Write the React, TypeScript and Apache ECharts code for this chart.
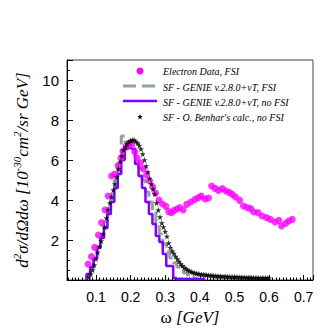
import React, { useEffect, useRef } from "react";
import * as echarts from "echarts";

// Electron data, FSI (omega [GeV], cross section)
const electronOmega = [
  0.077, 0.087, 0.096, 0.107, 0.116, 0.126, 0.135, 0.145, 0.154, 0.164, 0.172, 0.178, 0.187, 0.195, 0.203,
  0.212, 0.219, 0.228, 0.237, 0.246, 0.255, 0.264, 0.272, 0.282, 0.292, 0.302, 0.31, 0.318, 0.326, 0.334,
  0.342, 0.352, 0.362, 0.374, 0.386, 0.396, 0.404, 0.415, 0.425, 0.434, 0.444, 0.454, 0.465, 0.475, 0.485,
  0.494, 0.503, 0.515, 0.526, 0.537, 0.547, 0.556, 0.568, 0.58, 0.593, 0.604, 0.617, 0.628, 0.636, 0.648,
  0.657, 0.667,
];
const electronXs = [
  0.8, 1.17, 1.63, 2.25, 2.87, 3.5, 4.2, 5.2, 5.3, 5.72, 6.1, 6.45, 6.68, 6.82, 6.75,
  6.4, 6.1, 5.85, 5.55, 5.25, 4.95, 4.65, 4.35, 4.0, 3.8, 3.68, 3.42, 3.36, 3.48, 3.55,
  3.62, 3.5, 3.78, 3.9, 4.03, 4.12, 4.2, 4.05, 4.1, 4.7, 4.58, 4.48, 4.57, 4.45, 4.38,
  4.28, 4.15, 3.98, 3.7, 3.62, 3.57, 3.4, 3.37, 3.2, 3.12, 3.03, 2.9, 2.98, 2.7, 2.83,
  2.95, 3.03,
];

// SF - O. Benhar's calc., no FSI
const benharOmega = [
  0.08, 0.085, 0.09, 0.095, 0.1, 0.105, 0.11, 0.115, 0.12, 0.125, 0.13, 0.135, 0.14, 0.145, 0.15, 0.155,
  0.16, 0.165, 0.17, 0.175, 0.18, 0.185, 0.19, 0.195, 0.2, 0.205, 0.21, 0.215, 0.22, 0.225, 0.23, 0.235,
  0.24, 0.245, 0.25, 0.255, 0.26, 0.265, 0.27, 0.275, 0.28, 0.285, 0.29, 0.295, 0.3, 0.305, 0.31, 0.315,
  0.32, 0.325, 0.33, 0.335, 0.34, 0.345, 0.35, 0.355, 0.36, 0.365, 0.37, 0.375, 0.38, 0.385, 0.39, 0.395,
  0.4, 0.405, 0.41, 0.415, 0.42, 0.425, 0.43, 0.435, 0.44, 0.445, 0.45, 0.455, 0.46, 0.465, 0.47, 0.475,
  0.48, 0.485, 0.49, 0.495, 0.5, 0.505, 0.51, 0.515, 0.52, 0.525, 0.53, 0.535, 0.54, 0.545, 0.55, 0.555,
  0.56, 0.565, 0.57, 0.575, 0.58, 0.585, 0.59, 0.595, 0.6,
];
const benharXs = [
  0.15, 0.3, 0.5, 0.75, 1.05, 1.38, 1.68, 1.95, 2.3, 2.65, 3.1, 3.5, 3.85, 4.15, 4.5, 4.8,
  5.15, 5.55, 5.92, 6.2, 6.5, 6.65, 6.8, 6.9, 6.97, 7.0, 7.0, 6.92, 6.85, 6.72, 6.55, 6.3,
  6.0, 5.7, 5.4, 5.08, 4.8, 4.55, 4.3, 3.85, 3.5, 3.15, 2.85, 2.65, 2.42, 2.18, 1.85, 1.62,
  1.45, 1.32, 1.18, 1.05, 0.92, 0.8, 0.71, 0.63, 0.56, 0.5, 0.45, 0.41, 0.38, 0.35, 0.33, 0.31,
  0.29, 0.28, 0.27, 0.26, 0.25, 0.24, 0.23, 0.22, 0.21, 0.2, 0.2, 0.19, 0.19, 0.18, 0.18, 0.17,
  0.17, 0.16, 0.16, 0.15, 0.15, 0.15, 0.14, 0.14, 0.14, 0.13, 0.13, 0.13, 0.12, 0.12, 0.12, 0.11,
  0.11, 0.11, 0.11, 0.1, 0.1, 0.1, 0.1, 0.1, 0.1,
];

// GENIE histograms (bins of fixed width starting at HIST_START)
const HIST_START = 0.073;
const BIN_WIDTH = 0.01;
const genieFsi = [
  0.25, 0.6, 1.1, 1.65, 2.2, 2.9, 3.6, 4.3, 5.0, 5.9, 7.2, 6.9, 6.9, 6.6, 6.1, 5.6, 5.0, 4.4, 3.9, 3.4,
  2.8, 2.3, 1.8, 1.4, 1.1, 0.85, 0.65, 0.5, 0.35, 0.25, 0.15, 0.08,
];
const genieNoFsi = [
  0.3, 0.65, 1.1, 1.6, 2.1, 2.6, 3.3, 3.9, 4.6, 5.3, 6.0, 6.55, 6.6, 6.55, 5.8, 5.2, 4.6, 3.9, 3.3, 2.8,
  2.2, 1.9, 1.3, 0.7, 0.7, 0.1, 0.05, 0.05, 0.05, 0.05, 0.05, 0.05, 0.05, 0.05,
];

const legendLabels = [
  "Electron Data, FSI",
  "SF - GENIE v.2.8.0+\u03BDT, FSI",
  "SF - GENIE v.2.8.0+\u03BDT, no FSI",
  "SF - O. Benhar's calc., no FSI",
];

const X_MIN = 0.0162;
const X_MAX = 0.727;
const Y_MIN = 0;
const Y_MAX = 11;

const MAGENTA = "#ff00ff";
const PURPLE = "#7f00ff";
const GREY = "#8fa696";
const STAR =
  "path://M0,-10 L2.35,-3.24 L9.51,-3.09 L3.8,1.24 L5.88,8.09 L0,4 L-5.88,8.09 L-3.8,1.24 L-9.51,-3.09 L-2.35,-3.24 Z";

function histToLine(values: number[]) {
  const pts: number[][] = [[HIST_START, 0]];
  values.forEach((v, i) => {
    const a = HIST_START + i * BIN_WIDTH;
    pts.push([a, v]);
    pts.push([a + BIN_WIDTH, v]);
  });
  pts.push([HIST_START + values.length * BIN_WIDTH, 0]);
  return pts;
}

const SERIF = "'Liberation Serif', 'DejaVu Serif', serif";
const SANS = "'Liberation Sans', Arial, sans-serif";

export default function App() {
  const ref = useRef<HTMLDivElement>(null);
  useEffect(() => {
    if (!ref.current) return;
    const chart = echarts.init(ref.current, undefined, { renderer: "svg" });
    const rowY = [71, 87, 102, 117];
    const option: any = {
      animation: false,
      backgroundColor: "#fff",
      grid: {
        left: 67,
        right: 19,
        top: 60,
        bottom: 52,
        show: true,
        borderColor: "#444",
        borderWidth: 1,
        backgroundColor: "transparent",
      },
      xAxis: {
        type: "value",
        min: X_MIN,
        max: X_MAX,
        splitNumber: 7,
        axisLine: { show: true, onZero: false, lineStyle: { color: "#000", width: 1 } },
        axisTick: { show: true, inside: true, length: 5, lineStyle: { color: "#000" } },
        minorTick: { show: true, splitNumber: 10, length: 2.5, lineStyle: { color: "#000" } },
        splitLine: { show: false },
        axisLabel: {
          color: "#000",
          fontFamily: SANS,
          fontSize: 14,
          margin: 10,
          showMinLabel: false,
          showMaxLabel: false,
          formatter: (v: number) => {
            const r = Math.round(v * 10);
            return Math.abs(v * 10 - r) < 1e-6 && r >= 1 ? (r / 10).toFixed(1) : "";
          },
        },
        name: "{w|\u03C9 }{g|[GeV]}",
        nameLocation: "middle",
        nameGap: 28,
        nameTextStyle: {
          rich: {
            w: { fontFamily: SERIF, fontSize: 17, color: "#000" },
            g: { fontFamily: SERIF, fontStyle: "italic", fontSize: 17, color: "#000" },
          },
        },
      },
      yAxis: {
        type: "value",
        min: Y_MIN,
        max: Y_MAX,
        interval: 2,
        axisLine: { show: true, onZero: false, lineStyle: { color: "#000", width: 1 } },
        axisTick: { show: true, inside: true, length: 6, lineStyle: { color: "#000" } },
        minorTick: { show: true, splitNumber: 4, length: 3, lineStyle: { color: "#000" } },
        splitLine: { show: false },
        axisLabel: {
          color: "#000",
          fontFamily: SANS,
          fontSize: 15,
          margin: 8,
          showMinLabel: false,
          showMaxLabel: false,
        },
        name: "{a|d}{s|2}{a|\u03C3/d\u03A9d\u03C9 [10}{s|-30}{a|cm}{s|2}{a|/sr GeV]}",
        nameLocation: "middle",
        nameRotate: 90,
        nameGap: 36,
        nameTextStyle: {
          rich: {
            a: {
              fontFamily: SERIF,
              fontStyle: "italic",
              fontSize: 17,
              color: "#000",
              lineHeight: 20,
              verticalAlign: "bottom",
            },
            s: {
              fontFamily: SERIF,
              fontStyle: "italic",
              fontSize: 11,
              color: "#000",
              lineHeight: 11,
              verticalAlign: "top",
            },
          },
        },
      },
      series: [
        {
          name: legendLabels[1],
          type: "line",
          data: histToLine(genieFsi),
          showSymbol: false,
          lineStyle: { color: GREY, width: 3, type: [12, 5] },
          z: 2,
        },
        {
          name: legendLabels[2],
          type: "line",
          data: histToLine(genieNoFsi),
          showSymbol: false,
          lineStyle: { color: PURPLE, width: 2.5 },
          z: 3,
        },
        {
          name: legendLabels[0],
          type: "scatter",
          data: electronOmega.map((w, i) => [w, electronXs[i]]),
          symbol: "circle",
          symbolSize: 7,
          itemStyle: { color: MAGENTA },
          z: 4,
        },
        {
          name: legendLabels[3],
          type: "scatter",
          data: benharOmega.map((w, i) => [w, benharXs[i]]),
          symbol: STAR,
          symbolSize: 6,
          itemStyle: { color: "#000" },
          z: 5,
        },
      ],
      graphic: [
        { type: "circle", shape: { cx: 140, cy: rowY[0], r: 3.5 }, style: { fill: MAGENTA } },
        {
          type: "line",
          shape: { x1: 123, y1: rowY[1] - 1, x2: 157, y2: rowY[1] - 1 },
          style: { stroke: GREY, lineWidth: 3, lineDash: [13, 6] },
        },
        {
          type: "line",
          shape: { x1: 123, y1: rowY[2] - 1, x2: 157, y2: rowY[2] - 1 },
          style: { stroke: PURPLE, lineWidth: 2.5 },
        },
        {
          type: "polygon",
          shape: {
            points: [
              [0, -10], [2.35, -3.24], [9.51, -3.09], [3.8, 1.24], [5.88, 8.09], [0, 4],
              [-5.88, 8.09], [-3.8, 1.24], [-9.51, -3.09], [-2.35, -3.24],
            ],
          },
          x: 140,
          y: rowY[3],
          scaleX: 0.3,
          scaleY: 0.3,
          style: { fill: "#000" },
        },
        ...legendLabels.map((t, i) => ({
          type: "text",
          x: 163,
          y: rowY[i],
          style: {
            text: t,
            fontFamily: SERIF,
            fontStyle: "italic",
            fontSize: 10,
            fill: "#000",
            textVerticalAlign: "middle",
            verticalAlign: "middle",
          },
        })),
      ],
    };
    chart.setOption(option);
    return () => chart.dispose();
  }, []);
  return (
    <div
      ref={ref}
      style={{ position: "fixed", left: 0, top: 0, width: 332, height: 332 }}
    />
  );
}
